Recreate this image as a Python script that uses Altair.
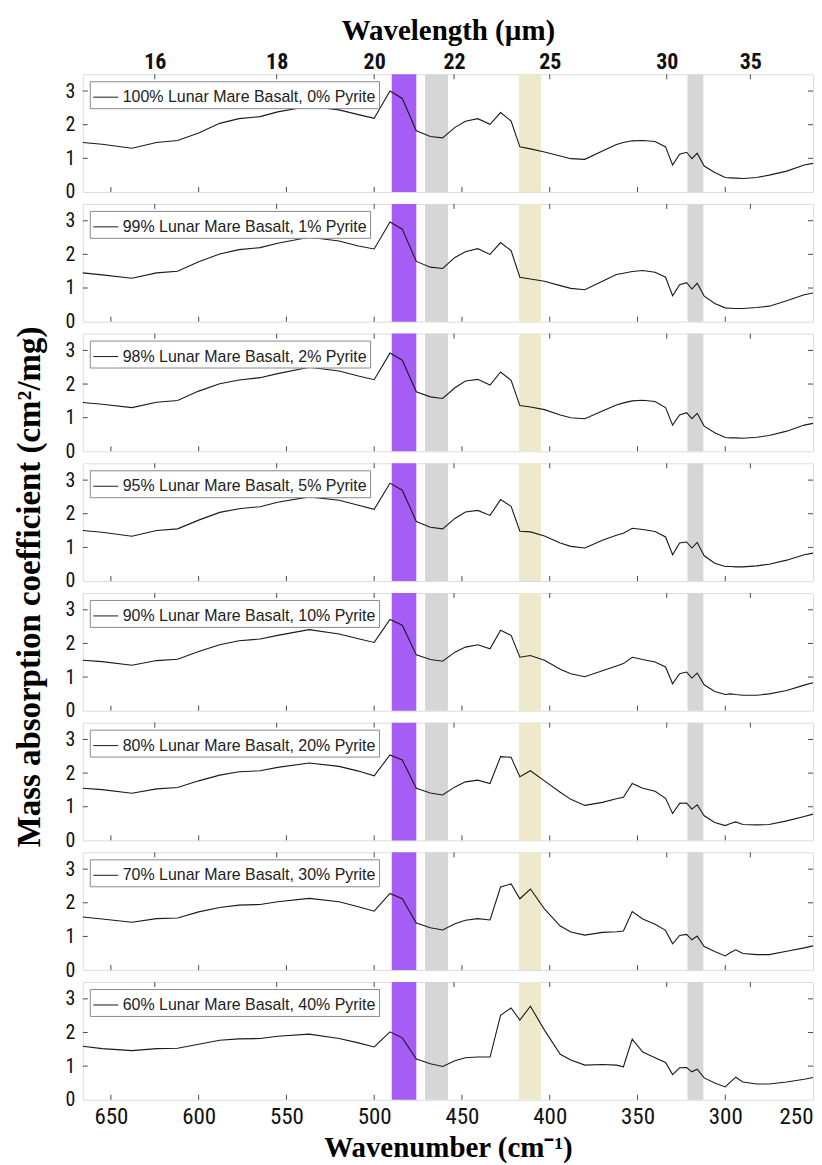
import altair as alt
import pandas as pd

# ---------------- data ----------------
WAVENUMBER = [666, 655, 638, 624, 612, 600, 588, 577, 565, 555,
              537, 520, 509, 500, 491, 484, 476, 468, 461, 454,
              448, 441, 434, 428, 422, 417, 411, 403, 394, 388,
              380, 370, 362, 358, 353, 347, 340, 334, 330, 326,
              322, 319, 316, 312, 306, 300, 297, 294, 290, 282,
              275, 265, 255, 250]

S100 = [1.47, 1.42, 1.30, 1.47, 1.53, 1.75, 2.04, 2.18, 2.24, 2.38,
        2.55, 2.44, 2.30, 2.19, 3.00, 2.78, 1.82, 1.65, 1.61, 1.92,
        2.10, 2.18, 2.01, 2.36, 2.11, 1.34, 1.28, 1.19, 1.07, 0.99,
        0.97, 1.22, 1.41, 1.47, 1.52, 1.53, 1.50, 1.34, 0.80, 1.12,
        1.18, 0.99, 1.15, 0.77, 0.58, 0.43, 0.42, 0.41, 0.40, 0.43,
        0.50, 0.62, 0.80, 0.85]
S99 = [1.45, 1.39, 1.29, 1.45, 1.50, 1.78, 2.01, 2.14, 2.20, 2.33,
       2.51, 2.40, 2.25, 2.16, 2.96, 2.75, 1.79, 1.62, 1.58, 1.91,
       2.08, 2.17, 2.00, 2.35, 2.11, 1.32, 1.27, 1.20, 1.07, 0.99,
       0.95, 1.20, 1.40, 1.44, 1.49, 1.52, 1.47, 1.32, 0.77, 1.10,
       1.16, 0.97, 1.14, 0.76, 0.54, 0.41, 0.40, 0.39, 0.39, 0.42,
       0.46, 0.62, 0.80, 0.85]
S98 = [1.45, 1.40, 1.30, 1.46, 1.51, 1.79, 2.01, 2.12, 2.19, 2.31,
       2.50, 2.39, 2.24, 2.13, 2.92, 2.71, 1.77, 1.62, 1.57, 1.89,
       2.09, 2.14, 1.97, 2.36, 2.11, 1.36, 1.32, 1.24, 1.08, 1.00,
       0.97, 1.20, 1.38, 1.44, 1.50, 1.52, 1.48, 1.30, 0.78, 1.08,
       1.15, 0.97, 1.13, 0.75, 0.55, 0.41, 0.40, 0.40, 0.39, 0.42,
       0.47, 0.60, 0.78, 0.83]
S95 = [1.50, 1.45, 1.33, 1.50, 1.55, 1.81, 2.04, 2.15, 2.21, 2.34,
       2.50, 2.40, 2.25, 2.13, 2.91, 2.70, 1.77, 1.60, 1.55, 1.86,
       2.05, 2.10, 1.95, 2.42, 2.22, 1.48, 1.46, 1.34, 1.13, 1.03,
       0.98, 1.21, 1.36, 1.42, 1.57, 1.53, 1.47, 1.31, 0.78, 1.13,
       1.16, 0.98, 1.15, 0.75, 0.53, 0.43, 0.43, 0.42, 0.42, 0.45,
       0.50, 0.62, 0.78, 0.83]
S90 = [1.50, 1.46, 1.35, 1.49, 1.53, 1.76, 1.96, 2.08, 2.13, 2.24,
       2.41, 2.28, 2.14, 2.03, 2.71, 2.54, 1.66, 1.52, 1.47, 1.74,
       1.89, 1.96, 1.84, 2.39, 2.24, 1.59, 1.64, 1.50, 1.23, 1.10,
       1.01, 1.19, 1.33, 1.40, 1.59, 1.52, 1.45, 1.30, 0.80, 1.10,
       1.15, 0.97, 1.12, 0.77, 0.57, 0.48, 0.50, 0.48, 0.46, 0.46,
       0.50, 0.60, 0.76, 0.83]
S80 = [1.55, 1.51, 1.40, 1.53, 1.57, 1.77, 1.94, 2.04, 2.07, 2.17,
       2.30, 2.20, 2.06, 1.92, 2.54, 2.39, 1.55, 1.41, 1.35, 1.59,
       1.74, 1.79, 1.69, 2.49, 2.47, 1.89, 2.07, 1.77, 1.43, 1.22,
       1.04, 1.13, 1.24, 1.28, 1.69, 1.55, 1.46, 1.25, 0.80, 1.10,
       1.11, 0.93, 1.06, 0.73, 0.53, 0.44, 0.50, 0.55, 0.47, 0.46,
       0.47, 0.58, 0.71, 0.78]
S70 = [1.58, 1.52, 1.42, 1.53, 1.55, 1.73, 1.86, 1.93, 1.95, 2.03,
       2.13, 2.03, 1.88, 1.75, 2.28, 2.12, 1.40, 1.26, 1.19, 1.38,
       1.48, 1.53, 1.49, 2.47, 2.56, 2.12, 2.41, 1.82, 1.31, 1.13,
       1.04, 1.12, 1.14, 1.16, 1.74, 1.52, 1.36, 1.18, 0.78, 1.03,
       1.06, 0.90, 1.01, 0.70, 0.55, 0.42, 0.52, 0.60, 0.49, 0.46,
       0.46, 0.56, 0.66, 0.72]
S60 = [1.59, 1.52, 1.46, 1.52, 1.53, 1.65, 1.77, 1.81, 1.82, 1.89,
       1.95, 1.82, 1.69, 1.57, 2.02, 1.84, 1.21, 1.07, 0.99, 1.16,
       1.25, 1.27, 1.27, 2.51, 2.73, 2.37, 2.78, 2.07, 1.35, 1.18,
       1.03, 1.05, 1.03, 0.98, 1.80, 1.42, 1.25, 1.11, 0.75, 0.95,
       0.96, 0.83, 0.91, 0.65, 0.50, 0.38, 0.53, 0.67, 0.53, 0.47,
       0.47, 0.53, 0.61, 0.66]

SERIES = [S100, S99, S98, S95, S90, S80, S70, S60]
BASALT_PCT = [100, 99, 98, 95, 90, 80, 70, 60]
PYRITE_PCT = [0, 1, 2, 5, 10, 20, 30, 40]

BAND_LO = [476, 458, 405, 312.5]
BAND_HI = [490, 471, 417.5, 321.5]
BAND_COLORS = ["#A65DF6", "#D6D6D6", "#EFE9CB", "#D6D6D6"]

BOTTOM_TICKS = [650, 600, 550, 500, 450, 400, 350, 300, 250]
WAVELENGTH_TICKS = [16, 18, 20, 22, 25, 30, 35]
Y_TICKS = [0, 1, 2, 3]

X_TITLE = "Wavenumber (cm\u207b\u00b9)"
TOP_TITLE = "Wavelength (\u00b5m)"
Y_TITLE = "Mass absorption coefficient (cm\u00b2/mg)"

# ---------------- style ----------------
W, H, GAP = 732, 118, 12
NARROW = "Liberation Sans Narrow, Arial Narrow, Roboto Condensed, DejaVu Sans Condensed, sans-serif"
SANS = "Liberation Sans, Arial, sans-serif"
SERIF = "Liberation Serif, Times New Roman, serif"
FRAME = "#4a4a4a"
TXT = "#111111"

xscale = alt.Scale(domain=[250, 666], reverse=True, nice=False, zero=False)
yscale = alt.Scale(domain=[0, 3.5], nice=False, zero=False)

top_tick_pos = [10000.0 / w for w in WAVELENGTH_TICKS]

bands_df = pd.DataFrame({"lo": BAND_LO, "hi": BAND_HI, "c": BAND_COLORS})
bt_df = pd.DataFrame({"x": BOTTOM_TICKS[:-1]})
tt_df = pd.DataFrame({"x": top_tick_pos})
yt_df = pd.DataFrame({"y": Y_TICKS[1:]})


def panel(i):
    label = f"{BASALT_PCT[i]}% Lunar Mare Basalt, {PYRITE_PCT[i]}% Pyrite"
    df = pd.DataFrame({"wn": WAVENUMBER, "v": SERIES[i], "label": label})

    bands = alt.Chart(bands_df).mark_rect().encode(
        x=alt.X("lo:Q", scale=xscale, axis=None),
        x2="hi:Q",
        y=alt.value(0),
        y2=alt.value(H),
        fill=alt.Fill("c:N", scale=None),
    )

    if i == len(SERIES) - 1:
        xaxis = alt.Axis(values=BOTTOM_TICKS, ticks=False, domain=False, grid=False,
                         labelFont=NARROW, labelFontSize=23, labelColor=TXT,
                         labelPadding=6, title=X_TITLE, titleFont=SERIF,
                         titleFontSize=29, titleFontWeight="bold", titleColor="#000",
                         titlePadding=5)
    else:
        xaxis = None

    line = alt.Chart(df).mark_line(strokeWidth=1.1).encode(
        x=alt.X("wn:Q", scale=xscale, axis=xaxis),
        y=alt.Y("v:Q", scale=yscale,
                axis=alt.Axis(values=Y_TICKS, ticks=False, domain=False, grid=False,
                              labelFont=NARROW, labelFontSize=20, labelColor=TXT,
                              labelPadding=8, title=None)),
        color=alt.Color("label:N", scale=alt.Scale(range=["#1a1a1a"]),
                        legend=alt.Legend(title=None, orient="top-left", offset=7,
                                          padding=3, strokeColor="#8a8a8a",
                                          fillColor="white", cornerRadius=0,
                                          symbolType="stroke", symbolSize=625,
                                          symbolStrokeWidth=1, labelFont=SANS,
                                          labelFontSize=16, labelColor="#222",
                                          labelOffset=4, labelLimit=400)),
    )

    bt = alt.Chart(bt_df).mark_rule(color=FRAME, strokeWidth=1).encode(
        x=alt.X("x:Q", scale=xscale, axis=None), y=alt.value(H), y2=alt.value(H - 5))

    if i == 0:
        taxis = alt.Axis(orient="top", values=top_tick_pos,
                         labelExpr="format(10000/datum.value, '.0f')",
                         ticks=False, domain=False, grid=False,
                         labelFont=NARROW, labelFontSize=22, labelFontWeight="bold",
                         labelColor=TXT, labelPadding=1, labelFlush=False,
                         title=TOP_TITLE, titleFont=SERIF, titleFontSize=29,
                         titleFontWeight="bold", titleColor="#000", titlePadding=5)
    else:
        taxis = None
    tt = alt.Chart(tt_df).mark_rule(color=FRAME, strokeWidth=1).encode(
        x=alt.X("x:Q", scale=xscale, axis=taxis), y=alt.value(0), y2=alt.value(5))

    lt = alt.Chart(yt_df).mark_rule(color=FRAME, strokeWidth=1).encode(
        y=alt.Y("y:Q", scale=yscale, axis=None), x=alt.value(0), x2=alt.value(5))
    rt = alt.Chart(yt_df).mark_rule(color=FRAME, strokeWidth=1).encode(
        y=alt.Y("y:Q", scale=yscale, axis=None), x=alt.value(W - 5), x2=alt.value(W))

    layers = [bands, line, bt, tt, lt, rt]
    if i == 3:
        ytitle = alt.Chart(pd.DataFrame({"t": [Y_TITLE]})).mark_text(
            angle=270, font=SERIF, fontSize=33, fontWeight="bold", color="#000",
            align="center", baseline="middle").encode(
            text="t:N", x=alt.value(-53), y=alt.value(H + GAP / 2))
        layers.append(ytitle)

    return alt.layer(*layers).resolve_axis(x="independent", y="independent").properties(
        width=W, height=H)


chart = alt.vconcat(*[panel(i) for i in range(len(SERIES))], spacing=GAP,
                    bounds="flush").resolve_scale(color="independent").properties(
    padding={"left": 13, "top": 14, "right": 6, "bottom": 4}
).configure_view(stroke=FRAME, strokeWidth=1.2).configure(background="white")

chart.save("out.html", embed_options={"renderer": "svg", "actions": False})
